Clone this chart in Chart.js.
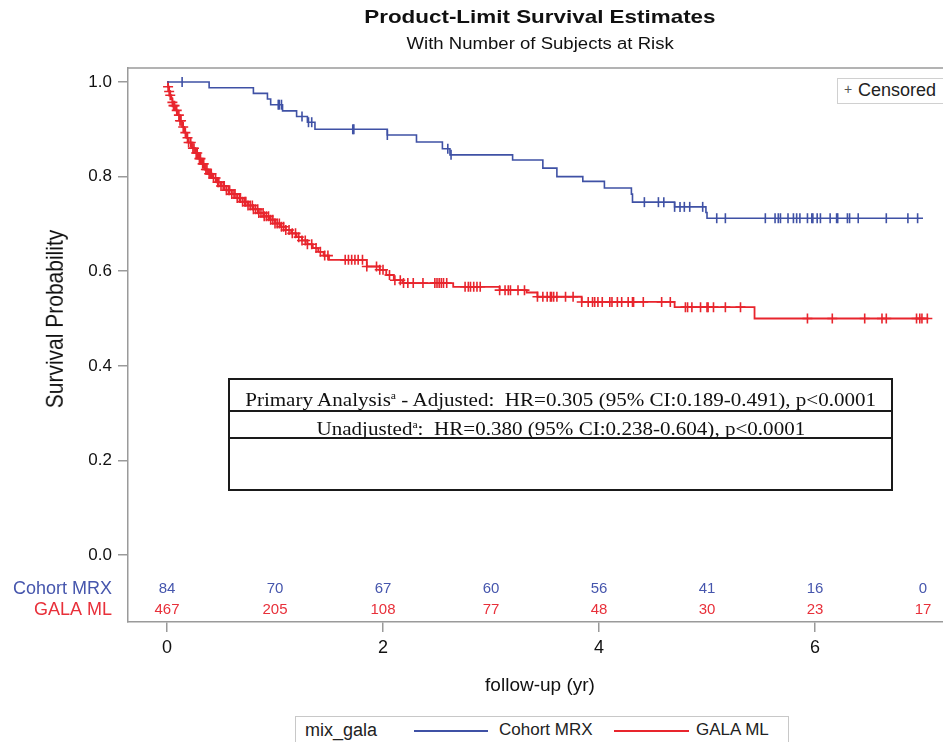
<!DOCTYPE html>
<html>
<head>
<meta charset="utf-8">
<script src="https://cdn.jsdelivr.net/npm/chart.js@4.4.1/dist/chart.umd.min.js"></script>
<style>
  html,body{margin:0;padding:0;background:#fff;}
  #wrap{position:relative;width:943px;height:742px;overflow:hidden;font-family:"Liberation Sans",Arial,sans-serif;}
  canvas{position:absolute;left:0;top:0;}
  .abs{position:absolute;white-space:nowrap;}
  .sx{display:inline-block;transform-origin:50% 50%;}
  #stat{position:absolute;left:228px;top:378px;width:661px;height:109px;border:2px solid #1a1a1a;font-family:"Liberation Serif","Times New Roman",serif;font-size:18px;color:#111;}
  #stat .r{position:absolute;left:0;width:100%;text-align:center;}
  #stat sup{font-size:10px;}
</style>
</head>
<body>
<div id="wrap">
  <canvas id="c" width="943" height="742"></canvas>
  <div class="abs" style="left:140px;width:800px;top:6px;text-align:center;font-weight:bold;font-size:19px;color:#111;"><span class="sx" style="transform:scaleX(1.18);">Product-Limit Survival Estimates</span></div>
  <div class="abs" style="left:140px;width:800px;top:35px;text-align:center;font-size:16px;color:#111;"><span class="sx" style="transform:scaleX(1.16);">With Number of Subjects at Risk</span></div>
  <div class="abs" style="left:-45px;top:307px;width:200px;text-align:center;font-size:21px;color:#111;transform:rotate(-90deg) scaleY(1.1);">Survival Probability</div>
  <div class="abs" style="left:380px;width:320px;top:674px;text-align:center;font-size:19px;color:#111;">follow-up (yr)</div>
  <div class="abs" style="left:837px;top:78px;width:120px;height:24px;border:1px solid #d0d0d0;background:#fff;">
    <span class="abs" style="left:6px;top:2px;font-size:14px;color:#555;">+</span>
    <span class="abs" style="left:20px;top:1px;font-size:18px;color:#222;">Censored</span>
  </div>
  <div id="stat">
    <div class="r" style="top:0;height:30px;line-height:31px;border-bottom:2px solid #1a1a1a;"><span class="sx" style="transform:scaleX(1.17);">Primary Analysis<sup>a</sup> - Adjusted:&nbsp; HR=0.305 (95% CI:0.189-0.491), p&lt;0.0001</span></div>
    <div class="r" style="top:32px;height:25px;line-height:26px;border-bottom:2px solid #1a1a1a;"><span class="sx" style="transform:scaleX(1.17);">Unadjusted<sup>a</sup>:&nbsp; HR=0.380 (95% CI:0.238-0.604), p&lt;0.0001</span></div>
  </div>
  <div class="abs" style="left:295px;top:716px;width:492px;height:40px;border:1px solid #c8c8c8;background:#fff;">
    <span class="abs" style="left:9px;top:3px;font-size:18px;color:#222;">mix_gala</span>
    <span class="abs" style="left:118px;top:13px;width:74px;height:0;border-top:2px solid #3f51a5;"></span>
    <span class="abs" style="left:203px;top:3px;font-size:17px;color:#222;">Cohort MRX</span>
    <span class="abs" style="left:318px;top:13px;width:75px;height:0;border-top:2px solid #e8252d;"></span>
    <span class="abs" style="left:400px;top:3px;font-size:17px;color:#222;">GALA ML</span>
  </div>
</div>
<script>
// ---------- data ----------
const blueTimes = [0, 0.39, 0.80, 0.93, 0.96, 1.07, 1.20, 1.30, 1.37, 2.04, 2.31, 2.55, 2.62, 3.20, 3.48, 3.61, 3.85, 4.05, 4.30, 4.31, 4.70, 4.99, 5.00, 7.00];
const blueSurv  = [1.0, 0.988, 0.976, 0.964, 0.952, 0.939, 0.927, 0.915, 0.900, 0.888, 0.873, 0.859, 0.846, 0.835, 0.818, 0.800, 0.790, 0.776, 0.763, 0.746, 0.736, 0.724, 0.712, 0.712];
const blueCensor = [0.14, 1.03, 1.04, 1.06, 1.25, 1.31, 1.34, 1.72, 1.73, 2.04, 2.60, 2.63, 4.42, 4.55, 4.60, 4.70, 4.75, 4.79, 4.84, 4.96,
  5.09, 5.17, 5.54, 5.63, 5.66, 5.68, 5.75, 5.80, 5.83, 5.86, 5.93, 5.97, 5.98, 6.02, 6.05, 6.14, 6.20, 6.21, 6.30, 6.32, 6.40, 6.66, 6.86, 6.95];

const redTimes = [0, 0.01, 0.02, 0.03, 0.04, 0.05, 0.06, 0.08, 0.10, 0.12, 0.14, 0.16, 0.18, 0.20, 0.23, 0.26, 0.29, 0.32, 0.35, 0.38, 0.42, 0.46, 0.50, 0.55, 0.60, 0.65, 0.70, 0.75, 0.80, 0.85, 0.90, 0.95, 1.00, 1.05, 1.10, 1.15, 1.20, 1.25, 1.30, 1.35, 1.40, 1.45, 1.50, 1.85, 1.97, 2.03, 2.10, 2.18, 2.65, 3.08, 3.33, 3.43, 3.84, 4.70, 5.44, 7.05];
const redSurv  = [1.0, 0.990, 0.980, 0.972, 0.964, 0.957, 0.950, 0.940, 0.930, 0.918, 0.905, 0.893, 0.882, 0.872, 0.860, 0.850, 0.838, 0.827, 0.815, 0.806, 0.797, 0.788, 0.780, 0.771, 0.763, 0.755, 0.747, 0.739, 0.731, 0.723, 0.716, 0.709, 0.701, 0.694, 0.687, 0.680, 0.672, 0.665, 0.657, 0.649, 0.641, 0.633, 0.624, 0.610, 0.603, 0.592, 0.581, 0.575, 0.567, 0.560, 0.555, 0.546, 0.535, 0.524, 0.500, 0.500];
const redCensor = [0.01, 0.02, 0.03, 0.05, 0.06, 0.07, 0.09, 0.11, 0.12, 0.13, 0.15, 0.17, 0.19, 0.20, 0.22, 0.24, 0.25, 0.27, 0.28, 0.30, 0.31, 0.33, 0.34, 0.36, 0.37, 0.39, 0.40, 0.41, 0.43, 0.45, 0.47, 0.48, 0.50, 0.52, 0.53, 0.55, 0.57, 0.58, 0.60, 0.62, 0.63, 0.65, 0.67, 0.68, 0.70, 0.72, 0.73, 0.75, 0.77, 0.79, 0.80, 0.82, 0.84, 0.85, 0.87, 0.89, 0.90, 0.92, 0.94, 0.96, 0.98, 1.00, 1.02, 1.04, 1.06, 1.08, 1.10, 1.13, 1.16, 1.19, 1.22, 1.25, 1.28, 1.30, 1.34, 1.38, 1.42, 1.46, 1.49,
  1.65, 1.68, 1.71, 1.74, 1.77, 1.81, 1.85, 1.94, 1.97, 2.00, 2.06, 2.11, 2.16, 2.19, 2.23, 2.28, 2.37, 2.48, 2.50, 2.52, 2.54, 2.56, 2.59, 2.76, 2.79, 2.81, 2.84, 2.87, 2.90,
  3.08, 3.13, 3.16, 3.18, 3.25, 3.31, 3.43, 3.48, 3.52, 3.55, 3.56, 3.58, 3.61, 3.69, 3.76, 3.84, 3.90, 3.94, 3.96, 3.99, 4.03, 4.10, 4.12, 4.17, 4.21, 4.27, 4.31, 4.32, 4.41, 4.58, 4.66,
  4.80, 4.82, 4.86, 4.94, 5.00, 5.01, 5.06, 5.17, 5.31, 5.93, 6.16, 6.46, 6.62, 6.66, 6.94, 6.97, 6.99, 7.04];

const riskTimes = [0, 1, 2, 3, 4, 5, 6, 7];
const riskMRX  = [84, 70, 67, 60, 56, 41, 16, 0];
const riskGALA = [467, 205, 108, 77, 48, 30, 23, 17];
const riskLabels = ["Cohort MRX", "GALA ML"];

const xTickVals = [0, 2, 4, 6];
const yTickVals = [0.0, 0.2, 0.4, 0.6, 0.8, 1.0];

// ---------- styling ----------
const BLUE = '#3f51a5', RED = '#e8252d';
const BLUE_TXT = '#4656ad', RED_TXT = '#e8303a';
const AXIS = '#9a9a9a';
const FONT = '"Liberation Sans", Arial, sans-serif';

function pts(t, s) { return t.map((v, i) => ({x: v, y: s[i]})); }
function survAt(t, s, x) { let v = s[0]; for (let i = 0; i < t.length; i++) { if (t[i] <= x) v = s[i]; } return v; }
function censorPts(t, s, c) { return c.map(x => ({x: x, y: survAt(t, s, x)})); }

const riskPlugin = {
  id: 'risk',
  afterDraw(chart) {
    const {ctx, chartArea, scales} = chart;
    ctx.save();
    // top frame line
    ctx.strokeStyle = AXIS; ctx.lineWidth = 1.5;
    ctx.beginPath(); ctx.moveTo(chartArea.left, chartArea.top); ctx.lineTo(chartArea.right, chartArea.top); ctx.stroke();
    const rows = [{vals: riskMRX, color: BLUE_TXT, y: chartArea.bottom - 33},
                  {vals: riskGALA, color: RED_TXT, y: chartArea.bottom - 12}];
    rows.forEach((r, k) => {
      ctx.fillStyle = r.color;
      ctx.font = '18px ' + FONT;
      ctx.textAlign = 'right'; ctx.textBaseline = 'middle';
      ctx.fillText(riskLabels[k], 112, r.y);
      ctx.font = '15px ' + FONT;
      ctx.textAlign = 'center';
      riskTimes.forEach((t, i) => ctx.fillText(String(r.vals[i]), scales.x.getPixelForValue(t), r.y));
    });
    ctx.restore();
  }
};

new Chart(document.getElementById('c'), {
  type: 'scatter',
  data: {
    datasets: [
      {label: 'Cohort MRX', data: pts(blueTimes, blueSurv), showLine: true, stepped: true, borderColor: BLUE, borderWidth: 1.6, pointRadius: 0, fill: false},
      {label: 'GALA ML', data: pts(redTimes, redSurv), showLine: true, stepped: true, borderColor: RED, borderWidth: 1.8, pointRadius: 0, fill: false},
      {label: 'MRX censored', data: censorPts(blueTimes, blueSurv, blueCensor), showLine: false, pointStyle: 'line', rotation: 90, pointRadius: 5, borderColor: BLUE, borderWidth: 1.6, backgroundColor: BLUE},
      {label: 'GALA censored', data: censorPts(redTimes, redSurv, redCensor), showLine: false, pointStyle: 'cross', pointRadius: 5, borderColor: RED, borderWidth: 1.6, backgroundColor: RED}
    ]
  },
  options: {
    responsive: false,
    animation: false,
    devicePixelRatio: 1,
    layout: {autoPadding: false, padding: {top: 68, left: 0, right: 0, bottom: 0}},
    plugins: {legend: {display: false}, tooltip: {enabled: false}, title: {display: false}},
    scales: {
      x: {
        type: 'linear', min: -0.3611, max: 7.185,
        afterBuildTicks: s => { s.ticks = xTickVals.map(v => ({value: v})); },
        afterFit: s => { s.height = 120; s.paddingLeft = 0; s.paddingRight = 0; },
        grid: {display: true, drawOnChartArea: false, drawTicks: true, tickLength: 10, color: AXIS, lineWidth: 1.5},
        border: {display: true, color: AXIS, width: 1.5},
        ticks: {font: {size: 18, family: FONT}, color: '#111', padding: 5, callback: v => String(v), maxRotation: 0}
      },
      y: {
        type: 'linear', min: -0.1416, max: 1.0296,
        afterBuildTicks: s => { s.ticks = yTickVals.map(v => ({value: v})); },
        afterFit: s => { s.width = 128; s.paddingTop = 0; s.paddingBottom = 0; },
        grid: {display: true, drawOnChartArea: false, drawTicks: true, tickLength: 10, color: AXIS, lineWidth: 1.5},
        border: {display: true, color: AXIS, width: 1.5},
        ticks: {font: {size: 17, family: FONT}, color: '#111', padding: 6, callback: v => v.toFixed(1)}
      }
    }
  },
  plugins: [riskPlugin]
});
</script>
</body>
</html>
